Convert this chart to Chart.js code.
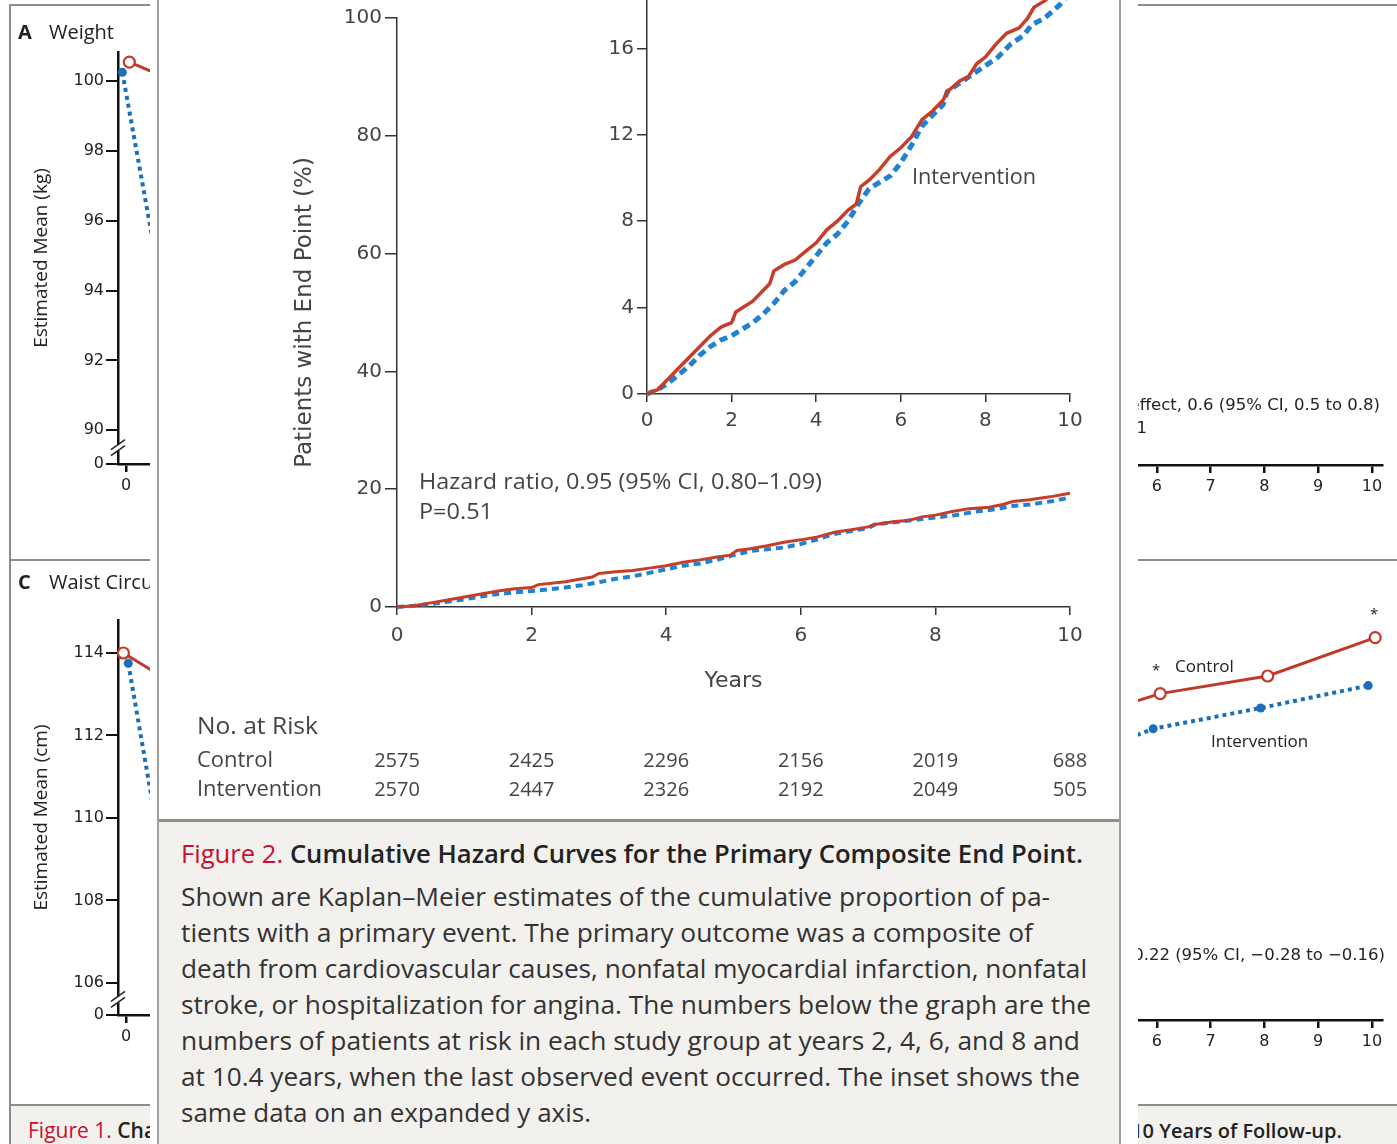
<!DOCTYPE html>
<html>
<head>
<meta charset="utf-8">
<title>Cumulative Hazard Curves</title>
<script src="https://cdn.jsdelivr.net/npm/chart.js@4.4.1/dist/chart.umd.min.js"></script>
<style>
  html, body { margin: 0; padding: 0; background: #fff; }
  #page { position: relative; width: 1397px; height: 1144px; overflow: hidden; background: #fff;
          font-family: 'Open Sans', sans-serif; color: #222; }
  #page > * { position: absolute; }
  .t { white-space: nowrap; line-height: 1; transform-origin: 0 50%; }
  .dv { font-family: 'DejaVu Sans', sans-serif; }
  .f1 { z-index: 1; }
  .f2box { z-index: 2; }
  .f2 { z-index: 3; }
  canvas { display: block; }
</style>
</head>
<body>
<div id="page">
  <!-- Figure 1 (behind) -->
  <div class="f1" style="left:9px;top:4px;width:1400px;height:1200px;border-left:2px solid #8c8c8c;border-top:2px solid #8c8c8c;"></div>
  <div class="f1" style="left:9px;top:559px;width:1400px;height:2px;background:#8c8c8c;"></div>
  <div class="f1" style="left:11px;top:1104px;width:1400px;height:60px;background:#f3f1ee;border-top:2px solid #8c8c8c;"></div>

  <canvas id="panelA" class="f1" width="700" height="560" style="left:10px;top:0px;"></canvas>
  <canvas id="panelB" class="f1" width="697" height="560" style="left:700px;top:0px;"></canvas>
  <canvas id="panelC" class="f1" width="700" height="545" style="left:10px;top:560px;"></canvas>
  <canvas id="panelD" class="f1" width="697" height="545" style="left:700px;top:560px;"></canvas>

  <div class="t f1" style="left:18px;top:22px;font-size:20px;font-weight:700;">A</div>
  <div class="t f1" style="left:49px;top:22px;font-size:20px;">Weight</div>
  <div class="t f1" style="left:18px;top:572px;font-size:20px;font-weight:700;">C</div>
  <div class="t f1" style="left:49px;top:572px;font-size:20px;">Waist Circumference</div>
  <div class="t f1" style="left:728px;top:22px;font-size:20px;font-weight:700;">B</div>
  <div class="t f1" style="left:759px;top:22px;font-size:20px;">Physical Fitness</div>
  <div class="t f1" style="left:728px;top:572px;font-size:20px;font-weight:700;">D</div>
  <div class="t f1" style="left:759px;top:572px;font-size:20px;">Glycated Hemoglobin</div>

  <div class="t f1 dv" style="right:17px;top:397px;font-size:16.5px;">Treatment effect, 0.6 (95% CI, 0.5 to 0.8)</div>
  <div class="t f1 dv" style="right:250px;top:420px;font-size:16.5px;">P&lt;0.001</div>
  <div class="t f1 dv" style="right:12px;top:947px;font-size:16.5px;">Treatment effect, &minus;0.22 (95% CI, &minus;0.28 to &minus;0.16)</div>
  <div class="t f1" style="left:1175px;top:657px;font-size:17px;">Control</div>
  <div class="t f1" style="left:1211px;top:732px;font-size:17px;">Intervention</div>
  <div class="t f1" style="left:1152px;top:662px;font-size:15px;">*</div>
  <div class="t f1" style="left:1370px;top:606px;font-size:15px;">*</div>

  <div class="t f1" style="left:28px;top:1120px;font-size:21px;font-weight:600;"><span style="color:#c8102e;font-weight:400;">Figure 1.</span> Changes in Weight, Physical Fitness, Waist Circumference, and Glycated Hemoglobin Level</div>
  <div class="t f1" style="right:55px;top:1121px;font-size:20px;font-weight:600;">during 10 Years of Follow-up.</div>

  <!-- Figure 2 (front) -->
  <div class="f2box" style="left:150px;top:0px;width:988px;height:1144px;background:#fff;"></div>
  <div class="f2box" style="left:157px;top:0px;width:2px;height:1144px;background:#a0a0a0;"></div>
  <div class="f2box" style="left:1119px;top:0px;width:2px;height:1144px;background:#a0a0a0;"></div>
  <div class="f2box" style="left:159px;top:819px;width:960px;height:330px;background:#f3f1ee;border-top:3px solid #8e8e8e;"></div>

  <canvas id="mainChart" class="f2" width="960" height="810" style="left:160px;top:0px;"></canvas>
  <canvas id="insetChart" class="f2" width="560" height="500" style="left:560px;top:-60px;"></canvas>

  <div class="t f2" style="left:419px;top:471px;font-size:21px;color:#444;" data-w="403">Hazard ratio, 0.95 (95% CI, 0.80&ndash;1.09)</div>
  <div class="t f2" style="left:419px;top:501px;font-size:21px;color:#444;" data-w="74">P=0.51</div>
  <div class="t f2" style="left:912px;top:166px;font-size:21px;color:#444;" data-w="124">Intervention</div>

  <div class="t f2" style="left:197px;top:714px;font-size:23px;color:#444;" data-w="121">No. at Risk</div>
  <div class="t f2" style="left:197px;top:749px;font-size:21px;color:#444;" data-w="76">Control</div>
  <div class="t f2" style="left:197px;top:778px;font-size:21px;color:#444;" data-w="125">Intervention</div>

  <div class="t f2" style="left:181px;top:841px;font-size:25px;font-weight:600;" data-w="902"><span style="color:#c8102e;font-weight:400;">Figure 2.</span> Cumulative Hazard Curves for the Primary Composite End Point.</div>
  <div class="t f2" style="left:181px;top:884px;font-size:25px;color:#333;" data-w="869">Shown are Kaplan&ndash;Meier estimates of the cumulative proportion of pa-</div>
  <div class="t f2" style="left:181px;top:920px;font-size:25px;color:#333;" data-w="852">tients with a primary event. The primary outcome was a composite of</div>
  <div class="t f2" style="left:181px;top:956px;font-size:25px;color:#333;" data-w="906">death from cardiovascular causes, nonfatal myocardial infarction, nonfatal</div>
  <div class="t f2" style="left:181px;top:992px;font-size:25px;color:#333;" data-w="910">stroke, or hospitalization for angina. The numbers below the graph are the</div>
  <div class="t f2" style="left:181px;top:1028px;font-size:25px;color:#333;" data-w="899">numbers of patients at risk in each study group at years 2, 4, 6, and 8 and</div>
  <div class="t f2" style="left:181px;top:1064px;font-size:25px;color:#333;" data-w="899">at 10.4 years, when the last observed event occurred. The inset shows the</div>
  <div class="t f2" style="left:181px;top:1100px;font-size:25px;color:#333;" data-w="410">same data on an expanded y axis.</div>
</div>

<script>
// ---- Figure 2: cumulative % of patients with the primary end point ----
const controlYears = [0, 0.25, 0.5, 0.75, 1.0, 1.25, 1.5, 1.75, 2.0, 2.1, 2.5, 2.75, 2.9, 3.0, 3.25,
  3.5, 3.75, 4.0, 4.25, 4.5, 4.75, 4.95, 5.05, 5.25, 5.5, 5.75, 6.0, 6.25, 6.5, 6.75,
  7.0, 7.1, 7.4, 7.6, 7.8, 8.0, 8.25, 8.5, 8.8, 9.0, 9.15, 9.4, 9.7, 10.0, 10.12];
const controlPct = [0, 0.2, 0.7, 1.2, 1.7, 2.2, 2.7, 3.1, 3.3, 3.8, 4.3, 4.8, 5.1, 5.7, 6.0,
  6.2, 6.6, 7.0, 7.6, 8.0, 8.5, 8.8, 9.6, 9.9, 10.4, 11.0, 11.4, 11.9, 12.7, 13.1,
  13.6, 14.0, 14.5, 14.7, 15.3, 15.6, 16.2, 16.7, 16.95, 17.4, 17.9, 18.2, 18.7, 19.3, 19.6];
const interventionYears = [0, 0.25, 0.5, 0.75, 1.0, 1.25, 1.5, 1.75, 2.0, 2.25, 2.5, 2.75, 3.0, 3.25,
  3.5, 3.75, 4.0, 4.25, 4.5, 4.75, 5.0, 5.25, 5.5, 5.75, 6.0, 6.25, 6.5, 6.75, 7.0,
  7.1, 7.4, 7.7, 8.0, 8.3, 8.6, 8.9, 9.1, 9.4, 9.75, 10.0, 10.34];
const interventionPct = [0, 0.2, 0.5, 0.9, 1.3, 1.8, 2.2, 2.5, 2.7, 3.0, 3.3, 3.7, 4.2, 4.8,
  5.2, 5.8, 6.4, 7.0, 7.4, 8.0, 8.8, 9.5, 9.8, 10.1, 10.7, 11.5, 12.4, 12.9, 13.4,
  14.0, 14.4, 14.8, 15.2, 15.6, 16.2, 16.6, 17.1, 17.4, 18.0, 18.6, 19.0];

// No. at risk
const riskYears = [0, 2, 4, 6, 8, 10];
const riskControl = [2575, 2425, 2296, 2156, 2019, 688];
const riskIntervention = [2570, 2447, 2326, 2192, 2049, 505];

// tick labels
const yearTicks = [0, 2, 4, 6, 8, 10];
const mainPctTicks = [0, 20, 40, 60, 80, 100];
const insetPctTicks = [0, 4, 8, 12, 16];

// ---- Figure 1 (mostly covered by figure 2) ----
const fig1YearTicks = [0, 1, 2, 3, 4, 5, 6, 7, 8, 9, 10];
const weightYears = [0, 1, 2, 3, 4, 5, 6, 7, 8, 9, 10];
const weightControl = [100.55, 99.9, 99.6, 99.2, 98.9, 98.5, 98.1, 97.8, 97.5, 97.2, 96.9];
const weightIntervention = [100.26, 91.7, 93.4, 94.4, 95.0, 95.4, 95.6, 95.7, 95.6, 95.3, 94.8];
const weightTicks = [90, 92, 94, 96, 98, 100];
const fitnessYears = [0, 1, 4];
const fitnessControl = [7.2, 7.3, 6.8];
const fitnessIntervention = [7.2, 8.1, 7.2];
const fitnessTicks = [6, 7, 8, 9];
const waistYears = [0, 1, 2, 3, 4, 5, 6, 7, 8, 9, 10];
const waistControl = [114.0, 113.2, 113.0, 112.8, 112.7, 112.6, 112.5, 112.4, 112.3, 112.2, 112.1];
const waistIntervention = [113.75, 106.2, 107.5, 108.5, 109.2, 109.6, 109.9, 110.1, 110.2, 110.3, 110.4];
const waistTicks = [106, 108, 110, 112, 114];
const hba1cYears = [0, 1, 2, 3, 4, 6, 8, 10];
const hba1cControl = [7.3, 7.2, 7.25, 7.3, 7.33, 7.54, 7.65, 7.89];
const hba1cIntervention = [7.3, 6.6, 6.8, 6.95, 7.06, 7.32, 7.45, 7.59];
const hba1cTicks = [6, 6.5, 7, 7.5];

const RED = '#c63d29';
const BLUE = '#1f82d2';
const F1_RED = '#c0392a';
const F1_BLUE = '#1b6fb8';
const AXIS = '#333';
const TICK_FONT = { family: 'DejaVu Sans', size: 20 };
const F1_FONT = { family: 'DejaVu Sans', size: 16 };

function xy(xs, ys) { return xs.map((x, i) => ({ x: x, y: ys[i] })); }
function useTicks(list) { return scale => { scale.ticks = list.map(v => ({ value: v })); }; }

// numbers at risk under the main x axis
const riskTable = {
  id: 'riskTable',
  afterDraw(chart, args, opts) {
    const ctx = chart.ctx, xs = chart.scales.x, base = chart.chartArea.bottom;
    ctx.save();
    ctx.font = '20px "Open Sans"';
    ctx.fillStyle = '#444';
    ctx.textAlign = 'center';
    ctx.textBaseline = 'middle';
    opts.rows.forEach(row => {
      row.values.forEach((v, i) => ctx.fillText(String(v), xs.getPixelForValue(riskYears[i]), base + row.offset));
    });
    ctx.restore();
  }
};

// "//" break on the y axis of figure 1 panels
const axisBreak = {
  id: 'axisBreak',
  afterDraw(chart, args, opts) {
    if (opts.at == null) return;
    const ctx = chart.ctx;
    const y = chart.scales.y.getPixelForValue(opts.at);
    const x = chart.chartArea.left;
    ctx.save();
    ctx.fillStyle = '#fff';
    ctx.fillRect(x - 3, y - 3, 6, 6);
    ctx.strokeStyle = '#222';
    ctx.lineWidth = 1.5;
    [-3, 3].forEach(d => {
      ctx.beginPath();
      ctx.moveTo(x - 7, y + d + 5);
      ctx.lineTo(x + 7, y + d - 5);
      ctx.stroke();
    });
    ctx.restore();
  }
};

function kmChart(id, o) {
  return new Chart(document.getElementById(id), {
    type: 'line',
    data: {
      datasets: [
        { label: 'Control', data: xy(controlYears, controlPct), borderColor: RED, borderWidth: o.redWidth,
          pointRadius: 0, tension: 0, clip: false },
        { label: 'Intervention', data: xy(interventionYears, interventionPct), borderColor: BLUE,
          borderWidth: o.blueWidth, borderDash: o.dash, pointRadius: 0, tension: 0, clip: false }
      ]
    },
    options: {
      responsive: false, animation: false, events: [],
      layout: { padding: o.padding },
      plugins: { legend: { display: false }, tooltip: { enabled: false }, riskTable: o.risk },
      scales: {
        x: {
          type: 'linear', min: 0, max: 10,
          afterBuildTicks: useTicks(yearTicks),
          afterFit: s => { s.height = o.xHeight; },
          border: { color: AXIS, width: 1.5 },
          grid: { drawOnChartArea: false, tickLength: 8, color: AXIS, lineWidth: 1.5 },
          ticks: { font: TICK_FONT, color: '#444', padding: o.xPad, maxRotation: 0, autoSkip: false },
          title: o.xTitle
        },
        y: {
          type: 'linear', min: 0, max: o.yMax,
          afterBuildTicks: useTicks(o.yTicks),
          afterFit: s => { s.width = o.yWidth; },
          border: { color: AXIS, width: 1.5 },
          grid: { drawOnChartArea: false, tickLength: o.yTickLen, color: AXIS, lineWidth: 1.5 },
          ticks: { font: TICK_FONT, color: '#444', padding: 3, autoSkip: false },
          title: o.yTitle
        }
      }
    },
    plugins: o.risk ? [riskTable] : []
  });
}

function fig1Panel(id, p) {
  const cx = p.years.map(y => y + p.dodge[0]);
  const ix = p.years.map(y => y + p.dodge[1]);
  return new Chart(document.getElementById(id), {
    type: 'line',
    data: {
      datasets: [
        { data: xy(cx, p.control), borderColor: F1_RED, borderWidth: 3, pointRadius: 5.5, pointBorderWidth: 2.2,
          pointBorderColor: F1_RED, pointBackgroundColor: '#fff', tension: 0, clip: false },
        { data: xy(ix, p.intervention), borderColor: F1_BLUE, borderWidth: 4, borderDash: [4, 4], pointRadius: 4.5,
          pointBorderWidth: 0, pointBackgroundColor: F1_BLUE, tension: 0, clip: false }
      ]
    },
    options: {
      responsive: false, animation: false, events: [],
      layout: { padding: p.padding },
      plugins: { legend: { display: false }, tooltip: { enabled: false }, axisBreak: { at: p.breakAt } },
      scales: {
        x: {
          type: 'linear', min: -0.15, max: 10.2,
          afterBuildTicks: useTicks(fig1YearTicks),
          afterFit: s => { s.height = 40; },
          border: { color: '#111', width: 2.5 },
          grid: { drawOnChartArea: false, tickLength: 8, color: '#111', lineWidth: 2.5 },
          ticks: { font: F1_FONT, color: '#222', padding: 4, maxRotation: 0, autoSkip: false }
        },
        y: {
          type: 'linear', min: p.yMin, max: p.yMax,
          afterBuildTicks: s => { s.ticks = [{ value: p.yMin }].concat(p.yTicks.map(v => ({ value: v }))); },
          afterFit: s => { s.width = p.yWidth; },
          border: { color: '#111', width: 2.5 },
          grid: { drawOnChartArea: false, tickLength: 12, color: '#111', lineWidth: 2 },
          ticks: { font: F1_FONT, color: '#222', padding: 2, autoSkip: false,
                   callback: (v, i) => i === 0 ? '0' : v },
          title: { display: true, text: p.yTitle, font: { family: 'Open Sans', size: 19, lineHeight: 1.2 }, color: '#222',
                   padding: { top: 12, bottom: 0 } }
        }
      }
    },
    plugins: [axisBreak]
  });
}

function fitText() {
  document.querySelectorAll('[data-w]').forEach(el => {
    const w = el.getBoundingClientRect().width;
    el.style.transform = 'scaleX(' + (parseFloat(el.dataset.w) / w) + ')';
  });
}

document.fonts.ready.then(function () {
  fig1Panel('panelA', { years: weightYears, control: weightControl, intervention: weightIntervention,
    yMin: 89.03, yMax: 100.84, yTicks: weightTicks, yTitle: 'Estimated Mean (kg)', breakAt: 89.5,
    dodge: [0.06, -0.07], yWidth: 100, padding: { left: 8, right: 33, top: 52, bottom: 56 } });
  fig1Panel('panelC', { years: waistYears, control: waistControl, intervention: waistIntervention,
    yMin: 105.22, yMax: 114.8, yTicks: waistTicks, yTitle: 'Estimated Mean (cm)', breakAt: 105.6,
    dodge: [-0.05, 0.04], yWidth: 100, padding: { left: 8, right: 33, top: 60, bottom: 50 } });
  fig1Panel('panelB', { years: fitnessYears, control: fitnessControl, intervention: fitnessIntervention,
    yMin: 5.5, yMax: 9.5, yTicks: fitnessTicks, yTitle: 'Estimated Mean (METs)', breakAt: null,
    dodge: [0.06, -0.07], yWidth: 106.4, padding: { left: 20, right: 14.3, top: 52, bottom: 55 } });
  fig1Panel('panelD', { years: hba1cYears, control: hba1cControl, intervention: hba1cIntervention,
    yMin: 5.5, yMax: 8.0, yTicks: hba1cTicks, yTitle: 'Estimated Mean (%)', breakAt: null,
    dodge: [0.06, -0.07], yWidth: 106.4, padding: { left: 20, right: 14.3, top: 60, bottom: 45 } });

  kmChart('mainChart', {
    redWidth: 3, blueWidth: 4, dash: [7, 5],
    padding: { left: 120, right: 50, top: 18, bottom: 113 },
    xHeight: 90, xPad: 9, yWidth: 117, yTickLen: 12, yMax: 100, yTicks: mainPctTicks,
    xTitle: { display: true, text: 'Years', font: { family: 'DejaVu Sans', size: 22, lineHeight: 1.2 },
              color: '#444', padding: { top: 0, bottom: 3 } },
    yTitle: { display: true, text: 'Patients with End Point (%)', font: { family: 'DejaVu Sans', size: 23, lineHeight: 1.2 },
              color: '#444', padding: { top: 11, bottom: 0 } },
    risk: { rows: [{ values: riskControl, offset: 154 }, { values: riskIntervention, offset: 183 }] }
  });

  kmChart('insetChart', {
    redWidth: 3.5, blueWidth: 5, dash: [8, 5],
    padding: { left: 10, right: 50, top: 22, bottom: 0 },
    xHeight: 46, xPad: 7, yWidth: 77, yTickLen: 10, yMax: 20, yTicks: insetPctTicks,
    xTitle: { display: false }, yTitle: { display: false }, risk: false
  });

  fitText();
});
</script>
</body>
</html>
